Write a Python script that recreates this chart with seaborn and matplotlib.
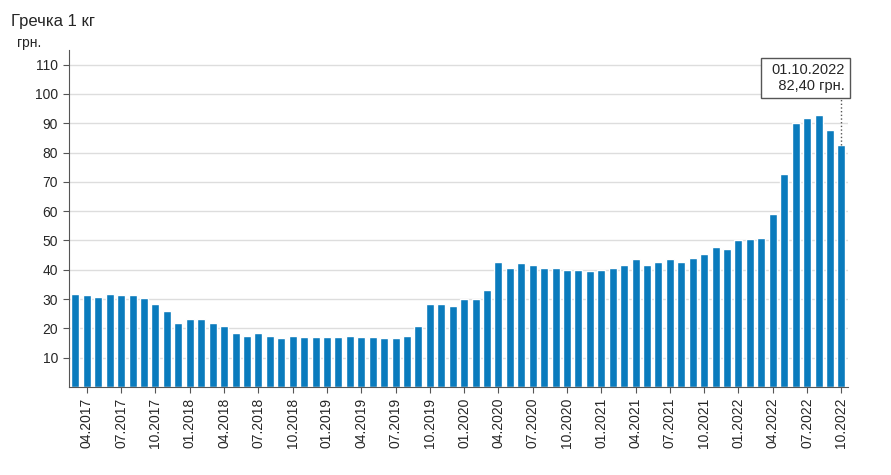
import matplotlib
matplotlib.use("Agg")
import matplotlib.pyplot as plt
import seaborn as sns
import pandas as pd

months = pd.date_range("2017-03-01", "2022-10-01", freq="MS")
values = [31.8, 31.3, 30.8, 31.8, 31.3, 31.3, 30.4, 28.5, 25.8, 21.8,
          23.1, 23.1, 21.7, 20.7, 18.5, 17.6, 18.5, 17.6, 16.8, 17.6, 17.2, 17.2,
          17.2, 17.2, 17.6, 17.2, 17.2, 16.8, 16.8, 17.6, 20.7, 28.2, 28.2, 27.7,
          30.0, 30.0, 33.2, 42.7, 40.5, 42.2, 41.8, 40.5, 40.5, 40.0, 40.0, 39.5,
          40.0, 40.5, 41.8, 43.6, 41.8, 42.7, 43.6, 42.7, 44.1, 45.5, 47.7, 47.2,
          50.0, 50.5, 50.9, 59.0, 72.7, 90.0, 91.8, 92.7, 87.7, 82.4]
yticks = list(range(10, 111, 10))

labels = [m.strftime("%m.%Y") for m in months]
df = pd.DataFrame({"month": labels, "value": values})

sns.set_style("white")
plt.rcParams['font.family'] = ['Liberation Sans', 'DejaVu Sans']
fig = plt.figure(figsize=(8.91, 4.75), dpi=100)
ax = fig.add_axes([0.077, 0.185, 0.875, 0.71])
sns.barplot(data=df, x="month", y="value", color="#0a7bbd", saturation=1, width=0.7, ax=ax)
ax.set_ylim(0, 115)
ax.set_xlim(-0.6, len(values) - 0.4)
ax.set_yticks(yticks)
ax.set_yticklabels([str(t) for t in yticks], fontsize=10)
ax.yaxis.grid(True, color="#dddddd", linewidth=1)
ax.set_axisbelow(True)
tick_idx = list(range(1, len(values), 3))
ax.set_xticks(tick_idx)
ax.set_xticklabels([labels[i] for i in tick_idx], rotation=90, fontsize=10)
ax.tick_params(axis="x", length=4, color="#555555", bottom=True)
ax.tick_params(axis="y", length=4, color="#555555", left=True)
ax.set_xlabel("")
ax.set_ylabel("")
for s in ["top", "right"]:
    ax.spines[s].set_visible(False)
for s in ["left", "bottom"]:
    ax.spines[s].set_color("#555555")
fig.text(0.012, 0.955, "Гречка 1 кг", fontsize=12, ha="left", va="center")
ax.text(-0.035, 1.0, "грн.", transform=ax.transAxes, fontsize=10, ha="right", va="bottom")
last = len(values) - 1
ax.plot([last, last], [values[-1], 101], ls=":", color="#555555", lw=1)
ax.text(last + 0.3, 105.5, "01.10.2022\n   82,40 грн.", fontsize=10.5, ha="right", va="center",
        bbox=dict(boxstyle="square,pad=0.35", fc="white", ec="#555555"))
fig.savefig("out.png", dpi=100)
